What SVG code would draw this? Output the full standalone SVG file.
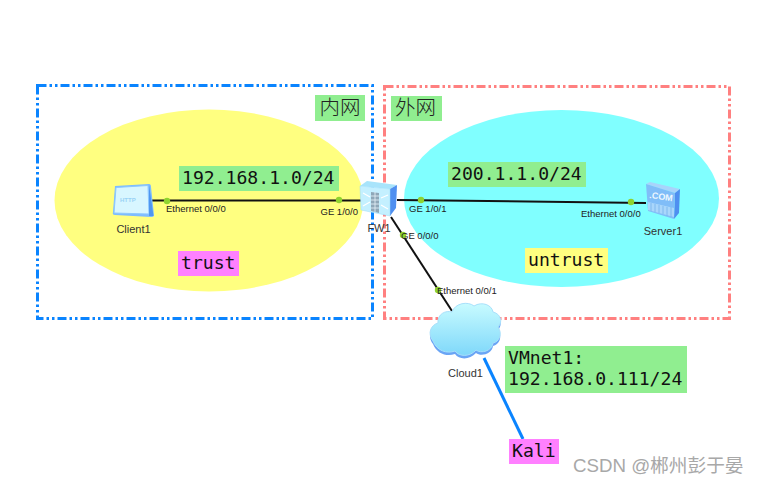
<svg xmlns="http://www.w3.org/2000/svg" width="759" height="485" viewBox="0 0 759 485">
<style>
.m{font-family:"DejaVu Sans Mono","Liberation Mono",monospace;font-size:18.100px;fill:#111}
.c{font-family:"Noto Sans CJK SC","Noto Sans",sans-serif;font-size:20.500px;font-weight:300;fill:#222}
.s{font-family:"Liberation Sans",Arial,sans-serif;font-size:9.500px;fill:#222}
.n{font-family:"Liberation Sans",Arial,sans-serif;font-size:11px;fill:#333;text-anchor:middle}
.g{fill:#90ee90}.p{fill:#ff80ff}.y{fill:#ffff80}
.l{stroke:#111;stroke-width:2;fill:none}
.d{fill:#8fd32f}
.z{fill:none;stroke-width:3;stroke-dasharray:9 3 2.500 3 2.500 3}
</style>
<defs>
<linearGradient id="cl" x1="0" y1="0" x2="0" y2="1"><stop offset="0" stop-color="#c8fbff"/><stop offset="1" stop-color="#7fd8fa"/></linearGradient>
<path id="cp" d="M433 341C427 333 431 325 438 323C437 314 446 310 452 312C455 303 468 301 474 306C482 301 492 305 493 312C501 314 503 322 498 327C503 334 499 342 493 343C492 351 481 354 476 350C470 357 459 357 455 351C447 354 437 351 433 341Z"/>
</defs>
<rect width="759" height="485" fill="#fff"/>
<g id="zones">
<rect x="37.500" y="85.500" width="335" height="233" class="z" stroke="#0a84ff"/>
<rect x="384.500" y="86.500" width="345" height="232" class="z" stroke="#ff8080"/>
<ellipse cx="209" cy="200.500" rx="154.500" ry="91" fill="#ffff80"/>
<ellipse cx="561.500" cy="198.500" rx="157.500" ry="88.500" fill="#80ffff"/>
</g>
<g id="connectors">
<path class="l" d="M152 200.500H362"/>
<path class="l" d="M397 200L646 203"/>
<path class="l" d="M391 217L452 311"/>
<path d="M484 358L523 439" stroke="#0a84ff" stroke-width="3" fill="none"/>
<circle class="d" cx="167" cy="201" r="3.200"/><circle class="d" cx="339" cy="200" r="3.200"/>
<circle class="d" cx="421" cy="200" r="3.200"/><circle class="d" cx="631" cy="202" r="3.200"/>
<circle class="d" cx="403" cy="235" r="3.200"/><circle class="d" cx="438" cy="290" r="3.200"/>
<text class="s" x="166" y="212">Ethernet 0/0/0</text>
<text class="s" x="320.500" y="215">GE 1/0/0</text>
<text class="s" x="409" y="212">GE 1/0/1</text>
<text class="s" x="581" y="217">Ethernet 0/0/0</text>
<text class="s" x="401" y="239">GE 0/0/0</text>
<text class="s" x="437" y="294">Ethernet 0/0/1</text>
</g>
<g id="Client1">
<path d="M115 186L149 184Q151 184 151 187L154 215Q154 217 151 217L115 215Q112 215 113 212Z" fill="#7ebcff"/>
<path d="M116 187.500L148 185.500L149 214L114 213Z" fill="#d8f6ff" stroke="#8cc8ff"/>
<path d="M149 184.500L153.500 216L149 216Z" fill="#4f96f0"/>
<text x="120" y="202" font-family="Liberation Sans,sans-serif" font-size="6" font-weight="bold" fill="#9ad2f5">HTTP</text>
<text class="n" x="133.500" y="233">Client1</text>
</g>
<g id="FW1">
<path d="M360 186L367 181L397 185L390 189Z" fill="#a8e4fb"/>
<path d="M390 189L397 185L396 208L390 216Z" fill="#4f8ff0"/>
<path d="M360 186L390 189L390 216L361 210Z" fill="#c4f0ff" stroke="#9bdcfa" stroke-width=".5"/>
<path d="M371 192L379 193L379 213L371 211Z" fill="#8fa8b8"/>
<path d="M371 196H379M371 200H379M371 204H379M371 208H379M375 192V212" stroke="#e8f4fa" stroke-width=".8"/>
<path d="M363 193L370 197M363 206L370 202M381 198L388 195M381 205L388 209" stroke="#fff" stroke-width="1.200"/>
<text class="n" x="379" y="232">FW1</text>
</g>
<g id="Server1">
<path d="M646 184L650 182L680 189L675 193Z" fill="#a8d4fb"/>
<path d="M675 193L680 189L679 213L674 219Z" fill="#4f8ff0"/>
<path d="M646 184L675 193L674 219L648 211Z" fill="#80bdf8"/>
<path d="M648 202L674 208L674 217L648 210Z" fill="#a9d6fb"/>
<path d="M651 203V211M655 204V212M659 205V213M663 206V214M667 207V216M671 207V217" stroke="#7fb8ee" stroke-width="1"/>
<text x="649" y="198" font-family="Liberation Sans,sans-serif" font-size="9" font-weight="bold" fill="#eef8ff" transform="rotate(8 649 198)">.COM</text>
<text class="n" x="663" y="235">Server1</text>
</g>
<g id="Cloud1">
<use href="#cp" fill="#6aa5f5" transform="translate(0 3)"/>
<use href="#cp" fill="url(#cl)" stroke="#a8e0fb"/>
<text class="n" x="465.500" y="377">Cloud1</text>
</g>
<g id="labels">
<g id="lan"><rect x="315" y="95" width="50" height="26" class="g"/><text class="c" x="319.500" y="115">内网</text></g>
<g id="wan"><rect x="391" y="96" width="51" height="25" class="g"/><text class="c" x="395" y="115">外网</text></g>
<g id="subnet1"><rect x="179" y="166" width="160" height="25" class="g"/><text class="m" x="182" y="184">192.168.1.0/24</text></g>
<g id="subnet2"><rect x="448" y="162" width="138" height="25" class="g"/><text class="m" x="451" y="180">200.1.1.0/24</text></g>
<g id="trust"><rect x="178" y="251" width="61" height="25" class="p"/><text class="m" x="181" y="269">trust</text></g>
<g id="untrust"><rect x="525" y="248" width="83" height="25" class="y"/><text class="m" x="528" y="266">untrust</text></g>
<g id="vmnet"><rect x="505" y="346" width="182" height="47" class="g"/><text class="m" x="508" y="364">VMnet1:</text><text class="m" x="508" y="385">192.168.0.111/24</text></g>
<g id="Kali"><rect x="509" y="439" width="50" height="25" class="p"/><text class="m" x="512" y="457">Kali</text></g>
</g>
<text x="573" y="472" font-family="Liberation Sans,'Noto Sans CJK SC',sans-serif" font-size="18.700" fill="#a8a8a8">CSDN @郴州彭于晏</text>
</svg>
